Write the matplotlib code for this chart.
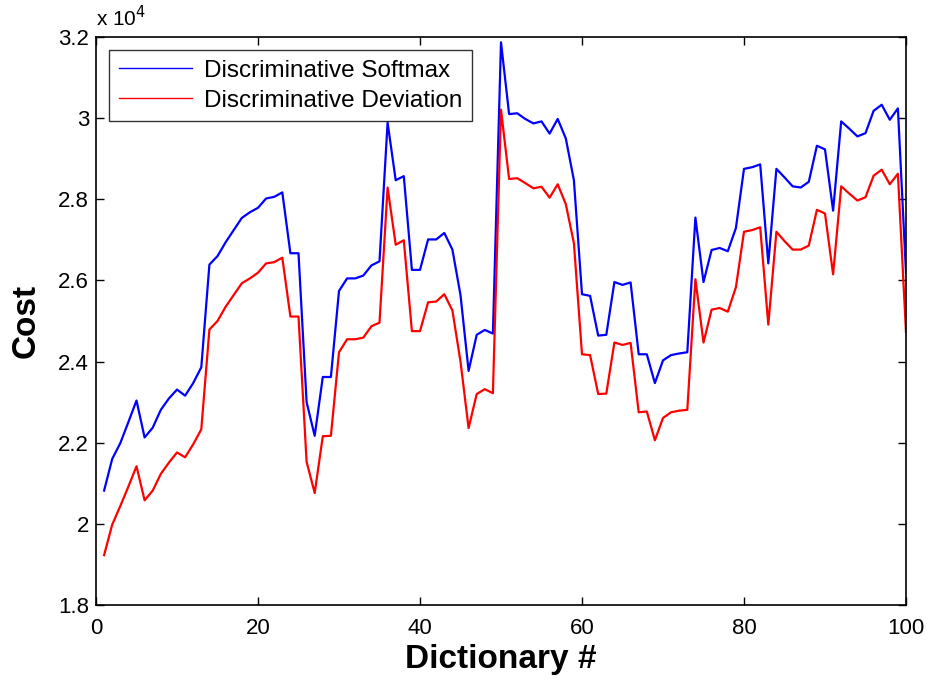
import matplotlib
matplotlib.use("Agg")
import matplotlib.pyplot as plt
from matplotlib.ticker import FuncFormatter

plt.rcParams['font.family'] = ['Liberation Sans', 'DejaVu Sans']

# cost per dictionary, in units of 1e4
dictionary = list(range(1, 101))
softmax = [
    2.082, 2.160, 2.199, 2.251, 2.304, 2.213, 2.237, 2.281, 2.309, 2.331,
    2.316, 2.347, 2.386, 2.639, 2.660, 2.694, 2.724, 2.754, 2.768, 2.779,
    2.802, 2.806, 2.817, 2.667, 2.667, 2.300, 2.217, 2.362, 2.362, 2.574,
    2.605, 2.605, 2.612, 2.637, 2.647, 2.989, 2.847, 2.857, 2.626, 2.626,
    2.701, 2.701, 2.717, 2.676, 2.564, 2.377, 2.466, 2.478, 2.469, 3.187,
    3.010, 3.012, 2.998, 2.987, 2.992, 2.962, 2.998, 2.950, 2.847, 2.566,
    2.562, 2.464, 2.466, 2.596, 2.589, 2.595, 2.418, 2.418, 2.347, 2.403,
    2.416, 2.420, 2.423, 2.755, 2.596, 2.675, 2.680, 2.672, 2.729, 2.875,
    2.879, 2.886, 2.642, 2.875, 2.854, 2.832, 2.829, 2.843, 2.932, 2.923,
    2.772, 2.992, 2.974, 2.955, 2.963, 3.018, 3.033, 2.996, 3.024, 2.619,
]
deviation = [
    1.923, 1.998, 2.044, 2.092, 2.142, 2.058, 2.082, 2.123, 2.151, 2.176,
    2.164, 2.196, 2.233, 2.479, 2.500, 2.535, 2.564, 2.593, 2.605, 2.619,
    2.642, 2.645, 2.656, 2.511, 2.511, 2.153, 2.076, 2.216, 2.217, 2.423,
    2.455, 2.455, 2.459, 2.487, 2.496, 2.829, 2.688, 2.699, 2.475, 2.475,
    2.546, 2.548, 2.566, 2.526, 2.400, 2.236, 2.320, 2.332, 2.322, 3.021,
    2.850, 2.852, 2.840, 2.827, 2.831, 2.804, 2.837, 2.788, 2.692, 2.418,
    2.416, 2.320, 2.321, 2.447, 2.441, 2.446, 2.275, 2.277, 2.206, 2.261,
    2.275, 2.279, 2.281, 2.603, 2.447, 2.528, 2.532, 2.523, 2.583, 2.720,
    2.724, 2.731, 2.491, 2.720, 2.697, 2.676, 2.676, 2.686, 2.774, 2.765,
    2.615, 2.832, 2.814, 2.797, 2.805, 2.858, 2.873, 2.837, 2.863, 2.473,
]
softmax = [v * 1e4 for v in softmax]
deviation = [v * 1e4 for v in deviation]

fig = plt.figure(figsize=(9.28, 6.86), dpi=100)
ax = fig.add_axes([96 / 928, 81 / 686, 810 / 928, 568 / 686])

ax.plot(dictionary, softmax, color='#0000ff', lw=1.6, label='Discriminative Softmax')
ax.plot(dictionary, deviation, color='#ff0000', lw=1.6, label='Discriminative Deviation')

ax.set_xlim(0, 100)
ax.set_ylim(1.8e4, 3.2e4)
ax.set_xticks(range(0, 101, 20))
ax.set_yticks([1.8e4 + 0.2e4 * i for i in range(8)])
ax.yaxis.set_major_formatter(FuncFormatter(lambda v, p: '%g' % round(v / 1e4, 1)))

ax.tick_params(direction='in', length=6, width=1, top=True, right=True, labelsize=16)
ax.tick_params(axis='x', pad=9)
ax.tick_params(axis='y', pad=5)
for s in ax.spines.values():
    s.set_linewidth(1.2)

ax.set_xlabel('Dictionary #', fontsize=24, fontweight='bold', labelpad=4)
ax.set_ylabel('Cost', fontsize=24, fontweight='bold', labelpad=12)
ax.text(0.0, 1.012, 'x 10$^{4}$', transform=ax.transAxes, fontsize=15, va='bottom', ha='left')

leg = ax.legend(loc='upper left', fontsize=17.5, frameon=True, fancybox=False,
                edgecolor='black', borderpad=0.4, handlelength=3.0, handletextpad=0.5,
                labelspacing=0.32, borderaxespad=0.0,
                bbox_to_anchor=(0.016, 0.977))
leg.get_frame().set_linewidth(1.0)
for h in leg.get_lines():
    h.set_linewidth(1.0)

fig.savefig('out.png', dpi=100, facecolor='white')
